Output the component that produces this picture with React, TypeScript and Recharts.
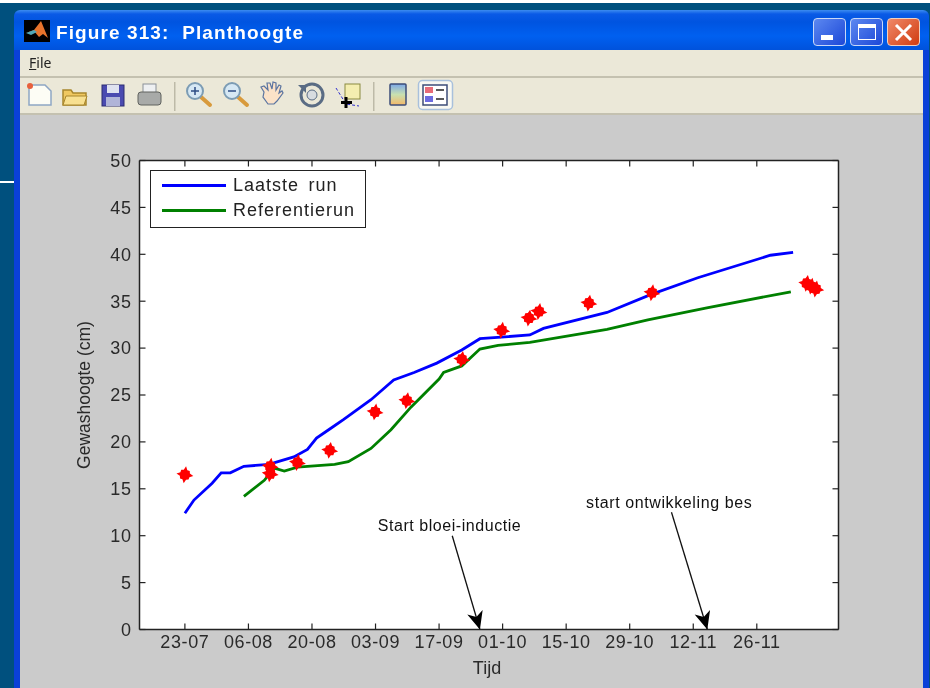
import React from 'react';
import {
    ComposedChart,
    Line,
    Scatter,
    XAxis,
    YAxis,
    CartesianGrid,
    Legend,
    ReferenceDot,
} from 'recharts';

// x axis runs in days since 23-07
const tickDays = [0, 14, 28, 42, 56, 70, 84, 98, 112, 126];
const tickLabels = ['23-07', '06-08', '20-08', '03-09', '17-09', '01-10', '15-10', '29-10', '12-11', '26-11'];
const heightTicks = [0, 5, 10, 15, 20, 25, 30, 35, 40, 45, 50];

const lastRunDays = [0, 2, 6, 8, 10, 13, 18.5, 24, 27, 29, 32, 35, 41, 46, 50.5, 55.5, 61, 65, 76, 79, 93, 102.6, 113, 129, 134];
const lastRunValues = [12.4, 13.8, 15.6, 16.7, 16.7, 17.4, 17.6, 18.4, 19.2, 20.4, 21.4, 22.4, 24.5, 26.6, 27.4, 28.4, 29.8, 31, 31.4, 32.1, 33.8, 35.7, 37.5, 39.9, 40.2];

const refRunDays = [13, 17.5, 19.7, 21.9, 24.8, 33, 36, 41, 45.4, 49.8, 56, 57, 61, 65, 69, 76, 93, 102, 115, 133.5];
const refRunValues = [14.2, 15.9, 17.2, 16.9, 17.3, 17.6, 17.9, 19.3, 21.3, 23.7, 26.7, 27.4, 28.1, 29.9, 30.3, 30.6, 32, 33, 34.3, 36];

const measuredDays = [0, 18.8, 18.8, 24.8, 31.9, 41.9, 48.9, 61, 69.8, 75.8, 78, 89, 102.9, 137, 138, 139];
const measuredValues = [16.5, 17.4, 16.6, 17.8, 19.1, 23.2, 24.4, 28.8, 31.9, 33.2, 33.9, 34.8, 35.9, 36.9, 36.6, 36.3];

const bloeiArrowDays = [58.9, 65];
const bloeiArrowValues = [10, 0];
const besArrowDays = [107.2, 115.1];
const besArrowValues = [12.5, 0];

// only there so the top and right axes get drawn
const frameDays = [-10, 144];
const frameValues = [0, 50];

const toPoints = (days: number[], values: number[]) =>
    days.map((day, i) => ({ day, value: values[i] }));

const FONT = '"Liberation Sans", Arial, sans-serif';

const RedStar = ({ cx, cy }: any) => (
    <polygon
        fill="#ff0000"
        transform={`translate(${cx},${cy}) rotate(8)`}
        points="0,-8.5 1.8,-4.8 4.3,-4.3 4.8,-1.8 8.5,0 4.8,1.8 4.3,4.3 1.8,4.8 0,8.5 -1.8,4.8 -4.3,4.3 -4.8,1.8 -8.5,0 -4.8,-1.8 -4.3,-4.3 -1.8,-4.8"
    />
);

const arrowHead = (props: any) => {
    if (props.index !== 1) return <g key={props.index} />;
    return (
        <polygon
            key={props.index}
            fill="#000"
            transform={`translate(${props.cx},${props.cy}) rotate(-16)`}
            points="0,0 -8,-18 0,-13 8,-18"
        />
    );
};

const LegendBox = ({ payload }: any) => (
    <div
        style={{
            width: 216,
            height: 58,
            background: '#fff',
            border: '1.5px solid #222',
            boxSizing: 'border-box',
            position: 'relative',
        }}
    >
        {(payload || [])
            .filter((p: any) => p.type !== 'none')
            .map((p: any, i: number) => (
                <div key={p.value} style={{ position: 'absolute', left: 11, top: 1.5 + i * 25.5, height: 25, display: 'flex', alignItems: 'center' }}>
                    <div style={{ width: 64, height: 3, background: p.color }} />
                    <span style={{ marginLeft: 7, font: `18px ${FONT}`, letterSpacing: 1, wordSpacing: 3.5, color: '#222' }}>{p.value}</span>
                </div>
            ))}
    </div>
);

const Toolbar = () => (
    <svg width={930} height={40} style={{ position: 'absolute', left: 0, top: 76 }}>
        {/* new */}
        <path d="M29 9h16l6 6v14H29z" fill="#fdfdf5" stroke="#8fa6c4" strokeWidth={1.5} />
        <circle cx={30} cy={10} r={3} fill="#e8603c" />
        {/* open */}
        <path d="M63 14h8l2 3h13v12H63z" fill="#f0c860" stroke="#a8862c" strokeWidth={1.5} />
        <path d="M66 20h21l-3 9H63z" fill="#f8e090" stroke="#a8862c" />
        {/* save */}
        <rect x={102} y={9} width={22} height={21} fill="#4a4ab0" stroke="#2c2c70" />
        <rect x={107} y={9} width={12} height={8} fill="#dfe2f0" />
        <rect x={106} y={21} width={14} height={9} fill="#b0b4d8" />
        {/* print */}
        <rect x={143} y={8} width={13} height={9} fill="#eef0f2" stroke="#8a9098" />
        <rect x={138} y={16} width={23} height={13} rx={3} fill="#a8aaa8" stroke="#60625f" />
        <rect x={174} y={6} width={1.5} height={29} fill="#bdbaa8" />
        {/* zoom in, zoom out */}
        {[195, 232].map((cx, i) => (
            <g key={cx}>
                <line x1={cx + 6} y1={21} x2={cx + 15} y2={29} stroke="#d89a3c" strokeWidth={4} strokeLinecap="round" />
                <circle cx={cx} cy={15} r={8} fill="#d6e8f4" stroke="#7c9cb4" strokeWidth={2} />
                <line x1={cx - 4} y1={15} x2={cx + 4} y2={15} stroke="#2c4c84" strokeWidth={1.5} />
                {i === 0 && <line x1={cx} y1={11} x2={cx} y2={19} stroke="#2c4c84" strokeWidth={1.5} />}
            </g>
        ))}
        {/* hand */}
        <path d="M264 16l-3-5 3-1 4 4-1-7 3 0 2 6 1-7 3 1 0 7 3-5 2 1-2 7 3-2 1 2-6 8-3 3h-6l-5-7z" fill="#fbe2c8" stroke="#5a74a0" strokeWidth={1.2} />
        {/* rotate */}
        <circle cx={312} cy={19} r={11} fill="none" stroke="#5a6c84" strokeWidth={3} />
        <circle cx={312} cy={19} r={5} fill="#d8dce0" stroke="#5a6c84" />
        <path d="M298 9h8v8z" fill="#5a6c84" />
        {/* data cursor */}
        <rect x={345} y={8} width={15} height={15} fill="#f4eeb0" stroke="#8a8a40" />
        <path d="M336 12l10 16 13 2" fill="none" stroke="#3030d0" strokeWidth={1} strokeDasharray="3 2" />
        <path d="M346 21v11M341 26.5h11" stroke="#000" strokeWidth={3} />
        <rect x={373} y={6} width={1.5} height={29} fill="#bdbaa8" />
        {/* colorbar */}
        <defs>
            <linearGradient id="cbar" x1="0" y1="0" x2="0" y2="1">
                <stop offset="0%" stopColor="#7ca8e8" />
                <stop offset="50%" stopColor="#c8e0b0" />
                <stop offset="100%" stopColor="#f4b868" />
            </linearGradient>
        </defs>
        <rect x={390} y={8} width={16} height={21} rx={1} fill="url(#cbar)" stroke="#3c4c78" strokeWidth={1.5} />
        {/* legend, pressed */}
        <rect x={418.5} y={4.5} width={34} height={29} rx={4} fill="#f8f8f2" stroke="#a8c0dc" strokeWidth={1.5} />
        <rect x={423} y={9} width={24} height={20} fill="#fff" stroke="#3c4c78" strokeWidth={1.5} />
        <rect x={425} y={11} width={8} height={6} fill="#e86c78" />
        <rect x={425} y={20} width={8} height={6} fill="#6c6ce0" />
        <path d="M436 14h8M436 23h8" stroke="#222" strokeWidth={1.5} />
    </svg>
);

const WindowFrame = () => (
    <div style={{ position: 'absolute', left: 0, top: 0, width: 930, height: 688, background: '#00507e', overflow: 'hidden' }}>
        <div style={{ position: 'absolute', left: 0, top: 0, width: 930, height: 3, background: '#fff' }} />
        <div style={{ position: 'absolute', left: 0, top: 181, width: 14, height: 2, background: '#fff' }} />
        <div
            style={{
                position: 'absolute', left: 14, top: 10, width: 915, height: 700,
                borderRadius: '6px 6px 0 0',
                background: 'linear-gradient(#3c8cf0 0px, #0a5ae6 4px, #0054e0 12px, #0060f0 26px, #0052dc 40px)',
            }}
        />
        <div style={{ position: 'absolute', left: 14, top: 50, width: 6, height: 640, background: '#0a40d8' }} />
        <div style={{ position: 'absolute', left: 923, top: 50, width: 6, height: 640, background: '#0a40d8' }} />
        <div style={{ position: 'absolute', left: 20, top: 50, width: 903, height: 65, background: '#ebe8d8' }} />
        <div style={{ position: 'absolute', left: 20, top: 76, width: 903, height: 2, background: '#c4c1b0' }} />
        <div style={{ position: 'absolute', left: 20, top: 113, width: 903, height: 2, background: '#c4c1b0' }} />
        <div style={{ position: 'absolute', left: 20, top: 115, width: 903, height: 580, background: '#cbcbcb' }} />

        <svg width={26} height={22} style={{ position: 'absolute', left: 24, top: 20 }}>
            <rect width={26} height={22} fill="#000" />
            <path d="M2 13l8-3 7-9 7 17-5-4-4 3-5-6z" fill="#e8742c" />
            <path d="M2 13l8-3 3 2-6 3z" fill="#50a8b8" />
        </svg>
        <div style={{ position: 'absolute', left: 56, top: 22, font: `bold 19px ${FONT}`, letterSpacing: 1.1, color: '#fff', whiteSpace: 'pre' }}>
            {'Figure 313:  Planthoogte'}
        </div>
        <div style={{ position: 'absolute', left: 29, top: 53, font: `14px "Noto Sans", ${FONT}`, color: '#222' }}>
            <span style={{ textDecoration: 'underline' }}>F</span>ile
        </div>

        {[813, 850].map((x) => (
            <div key={x} style={{ position: 'absolute', left: x, top: 18, width: 33, height: 28, boxSizing: 'border-box', border: '1px solid #c8d8f8', borderRadius: 4, background: 'linear-gradient(135deg,#5c88f0,#1c48d8)' }} />
        ))}
        <div style={{ position: 'absolute', left: 821, top: 35, width: 12, height: 5, background: '#fff' }} />
        <div style={{ position: 'absolute', left: 858, top: 24, width: 18, height: 16, boxSizing: 'border-box', border: '1.5px solid #fff', borderTop: '4px solid #fff' }} />
        <div style={{ position: 'absolute', left: 887, top: 18, width: 33, height: 28, boxSizing: 'border-box', border: '1px solid #f0d0c0', borderRadius: 4, background: 'linear-gradient(135deg,#f08868,#d03c10)' }} />
        <svg width={33} height={28} style={{ position: 'absolute', left: 887, top: 18 }}>
            <path d="M9 7l15 15M24 7L9 22" stroke="#fff" strokeWidth={3} />
        </svg>
        <Toolbar />
    </div>
);

export default function App() {
    const axisLine = { stroke: '#222', strokeWidth: 1.5 };
    const tickLine = { stroke: '#222', strokeWidth: 1.2 };
    const tick = { fontSize: 18, fill: '#2a2a2a', fontFamily: FONT, letterSpacing: 0.6 };

    return (
        <div style={{ position: 'absolute', left: 0, top: 0, width: 930, height: 688, overflow: 'hidden', filter: 'blur(0.4px)' }}>
            <WindowFrame />
            <div style={{ position: 'absolute', left: 0, top: 0 }}>
                <ComposedChart
                    width={930}
                    height={688}
                    margin={{ top: 159.5, right: 90.5, bottom: 0, left: 79.5 }}
                >
                    <CartesianGrid fill="#fff" vertical={false} horizontal={false} />
                    <XAxis
                        dataKey="day"
                        type="number"
                        domain={[-10, 144]}
                        ticks={tickDays}
                        interval={0}
                        height={58.5}
                        axisLine={axisLine}
                        tickLine={tickLine}
                        tickSize={-6}
                        tickMargin={12}
                        tick={tick}
                        tickFormatter={(d: number) => tickLabels[tickDays.indexOf(d)]}
                        label={{ value: 'Tijd', position: 'insideBottom', offset: 14, dx: -2, fontSize: 18, fill: '#2a2a2a', fontFamily: FONT }}
                    />
                    <XAxis
                        xAxisId="top"
                        orientation="top"
                        dataKey="day"
                        type="number"
                        domain={[-10, 144]}
                        ticks={tickDays}
                        interval={0}
                        height={1}
                        axisLine={axisLine}
                        tickLine={tickLine}
                        tickSize={-6}
                        tickFormatter={() => ''}
                    />
                    <YAxis
                        dataKey="value"
                        type="number"
                        domain={[0, 50]}
                        ticks={heightTicks}
                        interval={0}
                        width={60}
                        axisLine={axisLine}
                        tickLine={tickLine}
                        tickSize={-6}
                        tickMargin={14}
                        tick={tick}
                        label={{ value: 'Gewashoogte (cm)', angle: -90, position: 'insideLeft', offset: 4, fontSize: 17.5, fill: '#2a2a2a', fontFamily: FONT, style: { textAnchor: 'middle' } }}
                    />
                    <YAxis
                        yAxisId="right"
                        orientation="right"
                        dataKey="value"
                        type="number"
                        domain={[0, 50]}
                        ticks={heightTicks}
                        interval={0}
                        width={1}
                        axisLine={axisLine}
                        tickLine={tickLine}
                        tickSize={-6}
                        tickFormatter={() => ''}
                    />
                    <Legend
                        layout="vertical"
                        align="center"
                        verticalAlign="middle"
                        wrapperStyle={{ left: 150, top: 170, width: 216 }}
                        content={<LegendBox />}
                    />
                    <Line
                        legendType="none"
                        xAxisId="top"
                        yAxisId="right"
                        data={toPoints(frameDays, frameValues)}
                        dataKey="value"
                        stroke="none"
                        dot={false}
                        isAnimationActive={false}
                    />
                    <Line
                        name="Laatste run"
                        data={toPoints(lastRunDays, lastRunValues)}
                        dataKey="value"
                        stroke="#0000ff"
                        strokeWidth={2.8}
                        dot={false}
                        type="linear"
                        isAnimationActive={false}
                    />
                    <Line
                        name="Referentierun"
                        data={toPoints(refRunDays, refRunValues)}
                        dataKey="value"
                        stroke="#008000"
                        strokeWidth={2.8}
                        dot={false}
                        type="linear"
                        isAnimationActive={false}
                    />
                    <Line
                        legendType="none"
                        data={toPoints(bloeiArrowDays, bloeiArrowValues)}
                        dataKey="value"
                        stroke="#111"
                        strokeWidth={1.3}
                        dot={arrowHead}
                        type="linear"
                        isAnimationActive={false}
                    />
                    <Line
                        legendType="none"
                        data={toPoints(besArrowDays, besArrowValues)}
                        dataKey="value"
                        stroke="#111"
                        strokeWidth={1.3}
                        dot={arrowHead}
                        type="linear"
                        isAnimationActive={false}
                    />
                    <Scatter
                        legendType="none"
                        data={toPoints(measuredDays, measuredValues)}
                        dataKey="value"
                        shape={RedStar}
                        isAnimationActive={false}
                    />
                    <ReferenceDot
                        x={58.3}
                        y={11.1}
                        r={0}
                        stroke="none"
                        label={{ value: 'Start bloei-inductie', position: 'center', fontSize: 16, letterSpacing: 0.55, fill: '#111', fontFamily: FONT }}
                    />
                    <ReferenceDot
                        x={106.7}
                        y={13.55}
                        r={0}
                        stroke="none"
                        label={{ value: 'start ontwikkeling bes', position: 'center', fontSize: 16, letterSpacing: 0.6, fill: '#111', fontFamily: FONT }}
                    />
                </ComposedChart>
            </div>
        </div>
    );
}
